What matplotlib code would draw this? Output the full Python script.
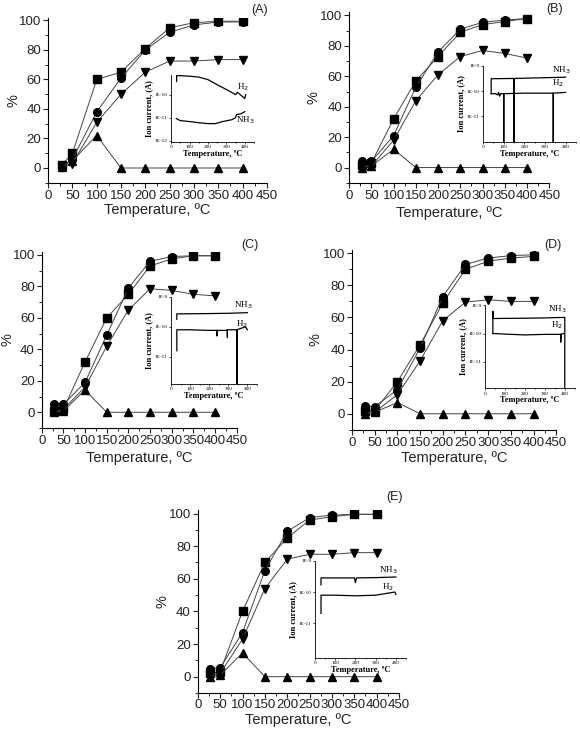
import numpy as np
import matplotlib
matplotlib.use("Agg")
import matplotlib.pyplot as plt
from matplotlib.ticker import MultipleLocator, FixedLocator, NullLocator

plt.rcParams['font.family'] = ['Liberation Sans', 'DejaVu Sans']

# ---- main panel data (conversion %, vs temperature) ----
temp = [28, 50, 100, 150, 200, 250, 300, 350, 400]

sq = {
    'A': [2, 10, 60, 65, 81, 95, 98.5, 99.5, 99.5],
    'B': [2, 3, 32, 57, 73, 89, 94, 96, 98],
    'C': [1, 2, 32, 60, 75, 93, 97.5, 99.5, 99.5],
    'D': [2, 2, 20, 43, 69, 90, 95, 97, 98],
    'E': [2, 3, 40, 70, 85, 96, 98, 99.5, 99.5],
}
circ = {
    'A': [1, 6, 38, 61, 80, 92, 97, 99, 99],
    'B': [4, 4, 21, 53, 76, 91, 95.5, 97, 98],
    'C': [5, 5, 19, 49, 79, 96, 99, 99.5, 99.5],
    'D': [5, 4.5, 15, 41, 73, 93, 97, 98.5, 99],
    'E': [5, 5.5, 27, 65, 89, 97.5, 99, 99.5, 99.5],
}
tri_dn = {
    'A': [1, 3, 31, 50, 65, 72.5, 72.5, 73.5, 73.5],
    'B': [1, 1, 18, 44, 61, 73, 77, 75, 72],
    'C': [0, 2, 16, 42, 65, 78.5, 77.5, 75, 74],
    'D': [1, 1, 12, 33, 58, 69.5, 71, 70, 70],
    'E': [1, 2, 23, 54, 72, 75, 75, 76, 76],
}
tri_up = {
    'A': [1, 5, 22, 0, 0, 0, 0, 0, 0],
    'B': [0, 1, 12, 0, 0, 0, 0, 0, 0],
    'C': [0, 1, 14, 0, 0, 0, 0, 0, 0],
    'D': [0, 1, 7, 0, 0, 0, 0, 0, 0],
    'E': [0, 1, 14.5, 0, 0, 0, 0, 0, 0],
}

# ---- inset traces: temperature and log10(ion current) ----
h2_T = {
    'A': [30, 30, 100, 150, 200, 250, 300, 350, 360, 400, 405],
    'B': [39, 60, 70, 75, 80, 85, 90, 100, 100, 100, 200, 340, 340, 340, 400],
    'C': [30, 30, 100, 200, 240, 240, 240, 295, 295, 295, 345, 345, 345, 390, 400],
    'D': [40, 100, 200, 300, 380, 380, 380, 395],
    'E': [30, 30, 100, 200, 300, 395, 400],
}
h2_I = {
    'A': [-9.43, -9.17, -9.2, -9.24, -9.35, -9.57, -9.78, -10.0, -9.9, -10.17, -10.0],
    'B': [-10.1, -10.1, -10.15, -10.05, -10.2, -10.1, -10.1, -10.1, -12, -10.1, -10.08, -10.08, -12, -10.08, -10.05],
    'C': [-10.8, -10.1, -10.1, -10.12, -10.12, -10.3, -10.12, -10.12, -10.35, -10.1, -10.1, -12, -10.1, -10.0, -10.1],
    'D': [-10.0, -10.02, -10.05, -10.03, -10.03, -10.3, -10.03, -10.0],
    'E': [-10.68, -10.1, -10.1, -10.12, -10.1, -10.0, -10.08],
}
nh3_T = {
    'A': [28, 50, 100, 150, 200, 240, 280, 330, 350, 355, 380, 400],
    'B': [39, 39, 150, 150, 150, 400],
    'C': [30, 30, 200, 300, 400],
    'D': [40, 40, 40, 200, 300, 400, 400],
    'E': [30, 30, 195, 200, 205, 300, 400],
}
nh3_I = {
    'A': [-11.04, -11.13, -11.17, -11.22, -11.26, -11.26, -11.17, -11.09, -11.0, -10.87, -10.83, -10.74],
    'B': [-10.1, -9.51, -9.5, -12, -9.5, -9.45],
    'C': [-9.75, -9.57, -9.56, -9.55, -9.53],
    'D': [-10.0, -9.22, -9.47, -9.46, -9.45, -9.43, -12],
    'E': [-9.77, -9.55, -9.55, -9.7, -9.55, -9.54, -9.52],
}
inset_ylim = {
    'A': (-12.05, -9.13),
    'B': (-12.0, -9.0),
    'C': (-11.9, -9.0),
    'D': (-11.93, -9.0),
    'E': (-12.1, -9.0),
}
inset_ticks = {
    'A': [-12, -11, -10],
    'B': [-11, -10, -9],
    'C': [-11, -10, -9],
    'D': [-11, -10, -9],
    'E': [-11, -10, -9],
}
lab_pos = {  # (T, log I) for NH3 and H2 labels
    'A': ((400, -11.13), (389, -9.7)),
    'B': ((380, -9.16), (361, -9.7)),
    'C': ((379, -9.27), (374, -9.9)),
    'D': ((360, -9.16), (360, -9.72)),
    'E': ((360, -9.29), (360, -9.84)),
}

# ---- layout (figure fractions) ----
main_pos = {
    'A': [0.083, 0.750, 0.377, 0.226],
    'B': [0.602, 0.750, 0.345, 0.233],
    'C': [0.072, 0.4145, 0.336, 0.241],
    'D': [0.607, 0.412, 0.352, 0.246],
    'E': [0.341, 0.052, 0.347, 0.250],
}
# axis-label coordinates (axes fraction): ylabel x, xlabel y
label_xy = {
    'A': (-0.16, -0.165),
    'B': (-0.18, -0.175),
    'C': (-0.175, -0.17),
    'D': (-0.18, -0.155),
    'E': (-0.175, -0.15),
}
inset_pos = {
    'A': [0.295, 0.806, 0.143, 0.092],
    'B': [0.833, 0.806, 0.160, 0.104],
    'C': [0.295, 0.475, 0.148, 0.119],
    'D': [0.836, 0.469, 0.155, 0.1135],
    'E': [0.543, 0.100, 0.157, 0.133],
}
letter_pos = {
    'A': (0.448, 0.986),
    'B': (0.957, 0.988),
    'C': (0.431, 0.665),
    'D': (0.953, 0.665),
    'E': (0.681, 0.320),
}

fig = plt.figure(figsize=(5.8, 7.31), dpi=100)
txt = '#222222'

for key in ['A', 'B', 'C', 'D', 'E']:
    ax = fig.add_axes(main_pos[key])
    for vals, mk in [(sq, 's'), (circ, 'o'), (tri_dn, 'v'), (tri_up, '^')]:
        ax.plot(temp, vals[key], color='#444444', lw=0.7, marker=mk,
                ms=5.5, mfc='black', mec='black', zorder=3)
    ax.set_xlim(0, 450)
    ax.set_ylim(-10, 102)
    ax.xaxis.set_major_locator(MultipleLocator(50))
    ax.xaxis.set_minor_locator(MultipleLocator(25))
    ax.yaxis.set_major_locator(FixedLocator([0, 20, 40, 60, 80, 100]))
    ax.yaxis.set_minor_locator(MultipleLocator(10))
    ax.tick_params(which='major', direction='out', length=3.5, width=0.8,
                   labelsize=9.5, colors=txt, pad=1.5)
    ax.tick_params(which='minor', direction='out', length=2, width=0.6)
    if key == 'E':
        ax.tick_params(axis='x', pad=0.5)
    for s in ['top', 'right']:
        ax.spines[s].set_visible(False)
    for s in ['left', 'bottom']:
        ax.spines[s].set_linewidth(0.8)
    ax.set_xlabel('Temperature, ºC', fontsize=10.5, color=txt, va='center')
    ax.set_ylabel('%', fontsize=10.5, color=txt, va='center')
    lx, ly = label_xy[key]
    ax.yaxis.set_label_coords(lx, 0.5)
    ax.xaxis.set_label_coords(0.5, ly)
    fig.text(*letter_pos[key], '(%s)' % key, fontsize=9, color=txt,
             ha='center', va='center')

    # inset
    ins = fig.add_axes(inset_pos[key])
    ins.plot(h2_T[key], 10 ** np.array(h2_I[key]), color='black', lw=0.9)
    ins.plot(nh3_T[key], 10 ** np.array(nh3_I[key]), color='black', lw=0.9)
    ins.set_yscale('log')
    lo, hi = inset_ylim[key]
    ins.set_ylim(10 ** lo, 10 ** hi)
    ins.set_xlim(0, 450)
    ins.yaxis.set_major_locator(FixedLocator([10.0 ** t for t in inset_ticks[key]]))
    ins.yaxis.set_minor_locator(NullLocator())
    ins.set_yticklabels(['1E%d' % t for t in inset_ticks[key]])
    ins.xaxis.set_major_locator(MultipleLocator(100))
    ins.xaxis.set_minor_locator(MultipleLocator(50))
    ins.tick_params(which='both', direction='out', length=1.5, width=0.5,
                    labelsize=3.8, pad=1)
    ins.tick_params(which='minor', length=1)
    for lab in ins.get_xticklabels() + ins.get_yticklabels():
        lab.set_family('Liberation Serif')
    for s in ['top', 'right']:
        ins.spines[s].set_visible(False)
    for s in ['left', 'bottom']:
        ins.spines[s].set_linewidth(0.6)
    ins.patch.set_alpha(0)
    ins.set_xlabel('Temperature, ºC', fontsize=6, family='Liberation Serif',
                   fontweight='bold', labelpad=0.5)
    ins.set_ylabel('Ion current, (A)', fontsize=6, family='Liberation Serif',
                   fontweight='bold', labelpad=1)
    (nx, ny), (hx, hy) = lab_pos[key]
    ins.text(nx, 10 ** ny, 'NH$_3$', fontsize=6.5, family='Liberation Serif',
             ha='center', va='center')
    ins.text(hx, 10 ** hy, 'H$_2$', fontsize=6.5, family='Liberation Serif',
             ha='center', va='center')

fig.savefig('out.png', dpi=100)
